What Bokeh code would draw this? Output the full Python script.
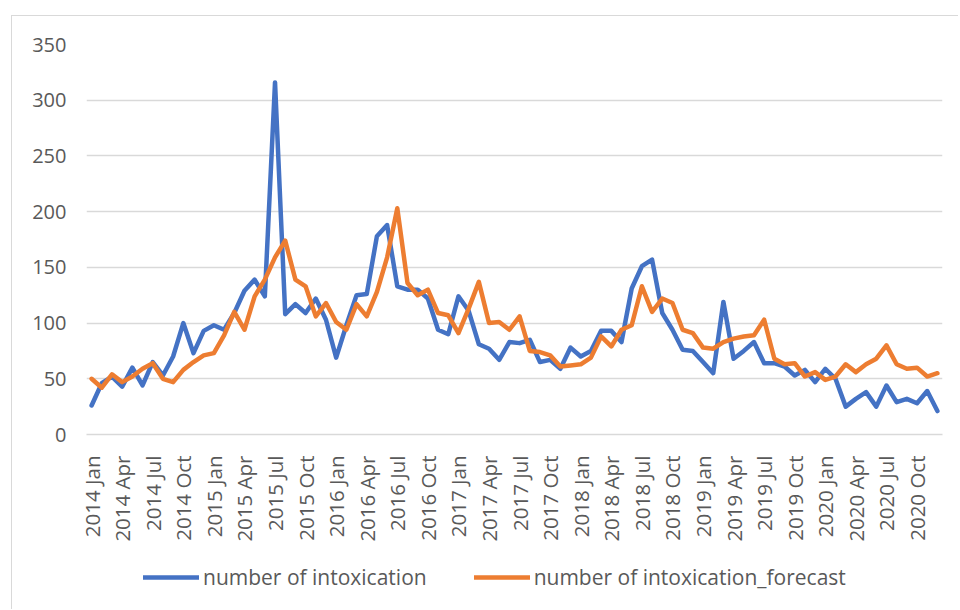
from bokeh.plotting import figure
from bokeh.models import Range1d, FixedTicker, Legend, LegendItem
from bokeh.layouts import column
from bokeh.embed import file_html
from bokeh.resources import INLINE
import math

years = [2014, 2015, 2016, 2017, 2018, 2019, 2020]
month_names = ["Jan", "Feb", "Mar", "Apr", "May", "Jun",
               "Jul", "Aug", "Sep", "Oct", "Nov", "Dec"]
periods = [f"{y} {m}" for y in years for m in month_names]

actual = [26, 46, 52, 43, 60, 44, 65, 53, 70, 100, 73, 93,
          98, 94, 109, 129, 139, 124, 316, 108, 117, 109, 122, 103,
          69, 98, 125, 126, 178, 188, 133, 130, 130, 122, 94, 90,
          124, 111, 81, 77, 67, 83, 82, 85, 65, 67, 59, 78,
          70, 75, 93, 93, 83, 131, 151, 157, 109, 94, 76, 75,
          65, 55, 119, 68, 75, 83, 64, 64, 61, 53, 58, 47,
          59, 50, 25, 32, 38, 25, 44, 29, 32, 28, 39, 21]

forecast = [50, 42, 54, 47, 52, 59, 64, 50, 47, 58, 65, 71,
            73, 89, 110, 94, 124, 139, 159, 174, 139, 133, 106, 118,
            101, 94, 117, 106, 128, 159, 203, 136, 125, 130, 109, 107,
            91, 113, 137, 100, 101, 94, 106, 75, 74, 71, 61, 62,
            63, 69, 88, 79, 94, 98, 133, 110, 122, 118, 94, 91,
            78, 77, 83, 86, 88, 89, 103, 68, 63, 64, 52, 56,
            49, 52, 63, 56, 63, 68, 80, 63, 59, 60, 52, 55]

series_names = ["number of intoxication", "number of intoxication_forecast"]
series_colors = ["#4472C4", "#ED7D31"]
y_ticks = [0, 50, 100, 150, 200, 250, 300, 350]

x = list(range(len(periods)))

p = figure(width=946, height=529, output_backend="svg", toolbar_location=None,
           x_range=Range1d(-0.5, len(periods) - 0.5), y_range=Range1d(0, 350),
           min_border_left=74, min_border_right=16, min_border_top=28,
           min_border_bottom=111)
p.outline_line_color = None
p.background_fill_color = "white"
p.border_fill_color = "white"

p.line(x, actual, line_color=series_colors[0], line_width=4.5,
       line_join="round", line_cap="round")
p.line(x, forecast, line_color=series_colors[1], line_width=4.5,
       line_join="round", line_cap="round")

p.xgrid.visible = False
p.ygrid.ticker = FixedTicker(ticks=y_ticks)
p.ygrid.grid_line_color = "#d9d9d9"
p.ygrid.grid_line_width = 1.5

p.yaxis.ticker = FixedTicker(ticks=y_ticks)
p.yaxis.axis_line_color = None
p.yaxis.major_tick_line_color = None
p.yaxis.minor_tick_line_color = None
p.yaxis.major_tick_out = 0
p.yaxis.major_label_standoff = 20
p.yaxis.major_label_text_font = "Open Sans"
p.yaxis.major_label_text_font_size = "20px"
p.yaxis.major_label_text_color = "#595959"

tick_idx = list(range(0, len(periods), 3))
p.xaxis.ticker = FixedTicker(ticks=tick_idx)
p.xaxis.major_label_overrides = {i: periods[i] for i in tick_idx}
p.xaxis.major_label_orientation = math.pi / 2
p.xaxis.axis_line_color = "#d9d9d9"
p.xaxis.axis_line_width = 1.5
p.xaxis.major_tick_line_color = None
p.xaxis.minor_tick_line_color = None
p.xaxis.major_tick_out = 0
p.xaxis.major_label_standoff = 21
p.xaxis.major_label_text_font = "Open Sans"
p.xaxis.major_label_text_font_size = "20.5px"
p.xaxis.major_label_text_color = "#595959"

# legend strip below the chart (frame aligned with the chart's frame)
lg = figure(width=946, height=64, output_backend="svg", toolbar_location=None,
            x_range=Range1d(0, 1), y_range=Range1d(0, 1), min_border=0)
lg.outline_line_color = None
lg.axis.visible = False
lg.grid.visible = False
lg.border_fill_color = "white"
items = []
for name, col in zip(series_names, series_colors):
    # out-of-range points: only the legend sample is visible
    r = lg.line([5, 6], [5, 6], line_color=col, line_width=4.5, line_cap="round")
    items.append(LegendItem(label=name, renderers=[r]))
legend = Legend(items=items, location=(57, 18), orientation="horizontal",
                padding=0, margin=0, spacing=47, glyph_width=56, glyph_height=20,
                label_height=20, label_standoff=4, border_line_alpha=0,
                background_fill_alpha=0, label_text_font="Open Sans",
                label_text_font_size="21px", label_text_color="#595959")
lg.add_layout(legend)

layout = column(p, lg, spacing=0)
layout.margin = (15, 0, 0, 11)
layout.styles = {"border-left": "1.5px solid #d9d9d9",
                 "border-top": "1.5px solid #d9d9d9"}
open("out.html", "w").write(file_html(layout, INLINE))
